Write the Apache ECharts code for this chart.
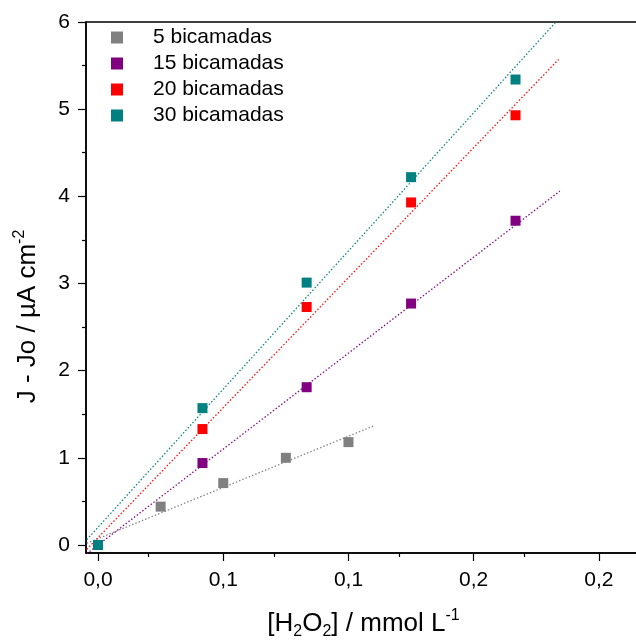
<!DOCTYPE html>
<html>
<head>
<meta charset="utf-8">
<script src="https://cdn.jsdelivr.net/npm/echarts@6/dist/echarts.min.js"></script>
<style>
  html, body { margin: 0; padding: 0; background: #fff; }
  #chart { width: 636px; height: 643px; }
</style>
</head>
<body>
<div id="chart"></div>
<script>
  // concentrations (mmol/L)
  var x5 = [0, 0.025, 0.05, 0.075, 0.1];
  var xN = [0, 0.0417, 0.0833, 0.125, 0.1667];
  // J - Jo (uA cm-2)
  var y5 = [0, 0.44, 0.71, 1.00, 1.18];
  var y15 = [0, 0.94, 1.81, 2.77, 3.72];
  var y20 = [0, 1.33, 2.73, 3.93, 4.93];
  var y30 = [0, 1.57, 3.01, 4.22, 5.34];
  // fitted lines, read as end points [x, y]
  var fit5 = [[-0.0045, 0.02], [0.1104, 1.37]];
  var fit15 = [[-0.0045, -0.10], [0.1844, 4.06]];
  var fit20 = [[-0.0045, -0.05], [0.1839, 5.57]];
  var fit30 = [[-0.0045, 0.06], [0.1844, 6.05]];
  var names = ['5 bicamadas', '15 bicamadas', '20 bicamadas', '30 bicamadas'];
  var colors = ['#808080', '#800080', '#ff0000', '#008080'];
  var xTicks = ['0,0', '0,1', '0,1', '0,2', '0,2'];

  function pairs(xs, ys) {
    var out = [];
    for (var i = 0; i < xs.length; i++) out.push([xs[i], ys[i]]);
    return out;
  }

  var font = 'Liberation Sans, Arial, sans-serif';
  var chart = echarts.init(document.getElementById('chart'));

  var scatters = [pairs(x5, y5), pairs(xN, y15), pairs(xN, y20), pairs(xN, y30)];
  var fits = [fit5, fit15, fit20, fit30];
  var series = [];
  // fits first so markers sit on top
  for (var i = 0; i < 4; i++) {
    series.push({
      type: 'line',
      data: fits[i],
      showSymbol: false,
      silent: true,
      clip: true,
      lineStyle: {color: colors[i], width: 1.3, type: [1.5, 2], opacity: 0.95},
      z: 2
    });
  }
  for (var j = 0; j < 4; j++) {
    series.push({
      name: names[j],
      type: 'scatter',
      data: scatters[j],
      symbol: 'rect',
      symbolSize: 10,
      itemStyle: {color: colors[j], opacity: 1},
      z: 3
    });
  }

  chart.setOption({
    animation: false,
    textStyle: {fontFamily: font},
    grid: {left: 86, right: -5, top: 22, bottom: 90, outerBoundsMode: 'none', containLabel: false,
      show: true, borderColor: '#000', borderWidth: 1.5},
    legend: {
      orient: 'vertical',
      left: 111,
      top: 27,
      padding: 0,
      itemWidth: 12,
      itemHeight: 12,
      itemGap: 5,
      icon: 'rect',
      itemStyle: {opacity: 1},
      textStyle: {fontSize: 21, color: '#000', fontFamily: font, padding: [0, 0, 0, 25]},
      data: names
    },
    xAxis: {
      type: 'value',
      min: -0.0048,
      max: 0.2168,
      interval: 0.05,
      name: '{t|[H}{s|2}{t|O}{s|2}{t|] / mmol L}{u|-1}',
      nameLocation: 'middle',
      nameGap: 55,
      nameTextStyle: {
        rich: {
          t: {fontSize: 26, color: '#000', fontFamily: font},
          s: {fontSize: 16, color: '#000', fontFamily: font, padding: [16, 0, 0, 0]},
          u: {fontSize: 16, color: '#000', fontFamily: font, padding: [0, 0, 16, 0]}
        }
      },
      splitLine: {show: false},
      axisLine: {onZero: false, lineStyle: {color: '#000', width: 1.5}},
      axisTick: {show: true, inside: false, length: 8, lineStyle: {color: '#000', width: 1.2},
        customValues: [0, 0.05, 0.1, 0.15, 0.2]},
      minorTick: {show: true, splitNumber: 2, length: 4, lineStyle: {color: '#000', width: 1.2}},
      axisLabel: {
        color: '#000', fontSize: 21, margin: 17,
        customValues: [0, 0.05, 0.1, 0.15, 0.2],
        formatter: function (v) {
          var k = Math.round(v / 0.05);
          return xTicks[k];
        }
      }
    },
    yAxis: {
      type: 'value',
      min: -0.092,
      max: 6,
      name: '{t|J - Jo / \u00b5A cm}{u|-2}',
      nameLocation: 'middle',
      nameGap: 42,
      nameRotate: 90,
      nameTextStyle: {
        padding: [0, 58, 0, 0],
        rich: {
          t: {fontSize: 26, color: '#000', fontFamily: font},
          u: {fontSize: 16, color: '#000', fontFamily: font, padding: [0, 0, 16, 0]}
        }
      },
      splitLine: {show: false},
      axisLine: {onZero: false, lineStyle: {color: '#000', width: 1.5}},
      axisTick: {show: true, length: 8, lineStyle: {color: '#000', width: 1.2},
        customValues: [0, 1, 2, 3, 4, 5, 6]},
      minorTick: {show: true, splitNumber: 2, length: 4, lineStyle: {color: '#000', width: 1.2}},
      axisLabel: {
        color: '#000', fontSize: 21, margin: 16,
        customValues: [0, 1, 2, 3, 4, 5, 6]
      }
    },
    series: series
  });
</script>
</body>
</html>
